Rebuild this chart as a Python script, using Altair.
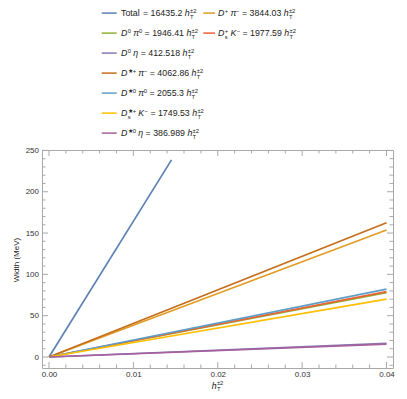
import altair as alt
import pandas as pd

# ---------------- data ----------------
series = ["Total", "D+ pi-", "D0 pi0", "Ds+ K-", "D0 eta", "D*+ pi-", "D*0 pi0", "Ds*+ K-", "D*0 eta"]
coefs = ["16435.2", "3844.03", "1946.41", "1977.59", "412.518", "4062.86", "2055.3", "1749.53", "386.989"]
colors = ["#5E81B5", "#E19C24", "#8FB032", "#EB6235", "#8778B3", "#C56E1A", "#5D9EC7", "#FFBF00", "#A5609D"]
end_x = [0.01452, 0.04, 0.04, 0.04, 0.04, 0.04, 0.04, 0.04, 0.04]
end_y = [238.6, 153.76, 77.86, 79.10, 16.50, 162.51, 82.21, 69.98, 15.48]

y_major = [0, 50, 100, 150, 200, 250]
y_minor = [-10, 10, 20, 30, 40, 60, 70, 80, 90, 110, 120, 130, 140, 160, 170, 180, 190,
           210, 220, 230, 240]
x_major = [0.0, 0.01, 0.02, 0.03, 0.04]
x_minor = [0.002, 0.004, 0.006, 0.008, 0.012, 0.014, 0.016, 0.018, 0.022, 0.024, 0.026,
           0.028, 0.032, 0.034, 0.036, 0.038]

# legend species labels as (kind, text[, sub]) segments
species = {
    "Total": [("n", "Total")],
    "D+ pi-": [("i", "D"), ("sup", "+"), ("n", " "), ("i", "π"), ("sup", "−")],
    "D0 pi0": [("i", "D"), ("sup", "0"), ("n", " "), ("i", "π"), ("sup", "0")],
    "Ds+ K-": [("i", "D"), ("ss", "+", "s"), ("n", " "), ("i", "K"), ("sup", "−")],
    "D0 eta": [("i", "D"), ("sup", "0"), ("n", " "), ("i", "η")],
    "D*+ pi-": [("i", "D"), ("sup", "★+"), ("n", " "), ("i", "π"), ("sup", "−")],
    "D*0 pi0": [("i", "D"), ("sup", "★0"), ("n", " "), ("i", "π"), ("sup", "0")],
    "Ds*+ K-": [("i", "D"), ("ss", "★+", "s"), ("n", " "), ("i", "K"), ("sup", "−")],
    "D*0 eta": [("i", "D"), ("sup", "★0"), ("n", " "), ("i", "η")],
}
# legend grid slot (column, row)
slots = {"Total": (0, 0), "D+ pi-": (1, 0), "D0 pi0": (0, 1), "Ds+ K-": (1, 1),
         "D0 eta": (0, 2), "D*+ pi-": (0, 3), "D*0 pi0": (0, 4), "Ds*+ K-": (0, 5),
         "D*0 eta": (0, 6)}

# ---------------- layout ----------------
W, H = 351, 218
FRAME = "#a9a9a9"
TXT = "#222222"
FONT = "Liberation Sans"
xs = alt.Scale(domain=[-0.00083, 0.04077], nice=False, zero=False)
ys = alt.Scale(domain=[-13.3, 250.5], nice=False, zero=False)

CW = {' ': .278, '=': .584, '.': .278, 'T': .611, 'o': .556, 't': .278, 'a': .556, 'l': .222,
      'D': .722, 'K': .667, 'h': .556, 'π': .6, 'η': .556, 's': .5, '+': .584, '−': .584,
      '★': .84, '±': .584}


def tw(t):
    return sum(CW.get(c, .556) for c in t)


def lay(segs, x0, base, fs):
    rows = []
    x = x0
    s2 = fs * 0.66
    for seg in segs:
        k = seg[0]
        if k in ("n", "i"):
            t = seg[1]
            lead = len(t) - len(t.lstrip(" "))
            x += lead * CW[" "] * fs
            core = t.strip(" ")
            if core:
                rows.append(dict(x=x, y=base, t=core, s=fs, st=k))
                x += tw(core) * fs
            trail = len(t) - len(t.rstrip(" ")) if core else 0
            x += trail * CW[" "] * fs
        elif k == "sup":
            rows.append(dict(x=x + 0.3, y=base - 0.40 * fs, t=seg[1], s=s2, st="n"))
            x += tw(seg[1]) * s2 + 0.3
        else:
            rows.append(dict(x=x + 0.3, y=base - 0.40 * fs, t=seg[1], s=s2, st="n"))
            rows.append(dict(x=x + 0.3, y=base + 0.26 * fs, t=seg[2], s=s2, st="n"))
            x += max(tw(seg[1]), tw(seg[2])) * s2 + 0.3
    return rows


FS = 8.8
col_line = [(59.7, 74.7), (161.3, 173.0)]
col_text = [79.0, 176.0]
row_base0, row_step = -133.7, 20.0

text_rows = []
leg_lines = []
for name, coef, col in zip(series, coefs, colors):
    c, r = slots[name]
    base = row_base0 + r * row_step
    segs = species[name] + [("n", " = " + coef + " "), ("i", "h"), ("ss", "±2", "T")]
    text_rows += lay(segs, col_text[c], base, FS)
    leg_lines.append(dict(x0=col_line[c][0], x1=col_line[c][1], y=base - 3.2, c=col))

# x-axis title  h_T^{±2}
text_rows += lay([("i", "h"), ("ss", "±2", "T")], 169.7, 238.8, 8.8)

tdf = pd.DataFrame(text_rows)
ldf = pd.DataFrame(leg_lines)

# ---------------- layers ----------------
yaxis = alt.Axis(values=y_major, title=None, labelPadding=3.5, orient="left")
xaxis = alt.Axis(values=x_major, title=None, labelPadding=2, format=".2f", orient="bottom")

layers = []

# data lines
for name, col, ex, ey in zip(series, colors, end_x, end_y):
    df = pd.DataFrame({"x": [0.0, ex], "y": [0.0, ey]})
    layers.append(alt.Chart(df).mark_line(color=col, strokeWidth=1.7, clip=True).encode(
        x=alt.X("x:Q", scale=xs, axis=xaxis),
        y=alt.Y("y:Q", scale=ys, axis=yaxis)))

MAJ, MIN = 6, 3.5
ymaj = pd.DataFrame({"y": y_major})
ymin = pd.DataFrame({"y": y_minor})
xmaj = pd.DataFrame({"x": x_major})
xmin = pd.DataFrame({"x": x_minor})

# left / right ticks
for d, ln in ((ymaj, MAJ), (ymin, MIN)):
    layers.append(alt.Chart(d).mark_rule(color=FRAME).encode(
        y=alt.Y("y:Q", scale=ys, axis=yaxis), x=alt.value(0), x2=alt.value(ln)))
    layers.append(alt.Chart(d).mark_rule(color=FRAME).encode(
        y=alt.Y("y:Q", scale=ys, axis=yaxis), x=alt.value(W), x2=alt.value(W - ln)))
# bottom / top ticks
for d, ln in ((xmaj, MAJ), (xmin, MIN)):
    layers.append(alt.Chart(d).mark_rule(color=FRAME).encode(
        x=alt.X("x:Q", scale=xs, axis=xaxis), y=alt.value(H), y2=alt.value(H - ln)))
    layers.append(alt.Chart(d).mark_rule(color=FRAME).encode(
        x=alt.X("x:Q", scale=xs, axis=xaxis), y=alt.value(0), y2=alt.value(ln)))

# legend swatches
layers.append(alt.Chart(ldf).mark_rule(strokeWidth=1.5).encode(
    x=alt.X("x0:Q", scale=None), x2="x1:Q",
    y=alt.Y("y:Q", scale=None), color=alt.Color("c:N", scale=None)))

# legend / title text
for st, style in (("n", "normal"), ("i", "italic")):
    layers.append(alt.Chart(tdf[tdf.st == st]).mark_text(
        align="left", baseline="alphabetic", font=FONT, fontStyle=style, color=TXT).encode(
        x=alt.X("x:Q", scale=None), y=alt.Y("y:Q", scale=None),
        size=alt.Size("s:Q", scale=None), text="t:N"))

# y-axis title
layers.append(alt.Chart(pd.DataFrame({"a": [0]})).mark_text(
    text="Width (MeV)", angle=270, align="center", baseline="middle",
    font=FONT, fontSize=8, color=TXT).encode(x=alt.value(-25), y=alt.value(110)))

chart = alt.layer(*layers).properties(
    width=W, height=H,
    autosize=alt.AutoSizeParams(type="none"),
    padding={"left": 34, "top": 142, "right": 6, "bottom": 23},
).configure_view(stroke=FRAME, strokeWidth=1).configure_axis(
    labelFont=FONT, labelFontSize=8, labelColor="#333333",
    ticks=False, tickSize=0, domain=False, grid=False)

chart.save("out.html", embed_options={"renderer": "svg", "actions": False})
